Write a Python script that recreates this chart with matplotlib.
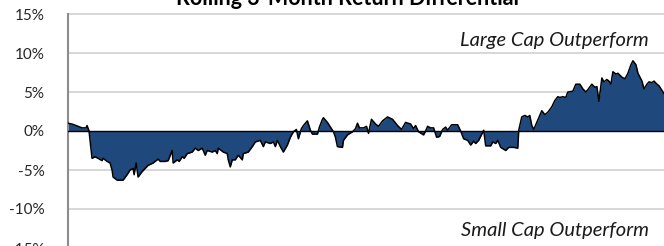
import matplotlib
matplotlib.use("Agg")
import numpy as np
import matplotlib.pyplot as plt
from matplotlib.ticker import FuncFormatter

# period index (weekly-ish) and rolling 3-month return differential, in %
period = [0, 5, 10, 14, 18, 19, 21, 24, 27, 30, 34, 35, 39, 42, 44, 45, 49, 55, 59, 62,
          65, 66, 68, 70, 74, 77, 80, 85, 90, 92, 97, 100, 104, 105, 109, 111, 114, 116, 119, 124,
          127, 130, 134, 137, 139, 144, 147, 149, 150, 155, 159, 160, 162, 164, 167, 170, 174, 175, 180, 184,
          187, 192, 195, 197, 202, 205, 207, 209, 212, 215, 219, 222, 225, 228, 230, 233, 235, 239, 242, 244,
          249, 251, 254, 255, 259, 262, 265, 267, 269, 274, 275, 279, 284, 287, 289, 291, 295, 298, 300, 303,
          307, 310, 314, 319, 324, 329, 333, 337, 342, 345, 347, 350, 355, 357, 359, 362, 365, 368, 371, 374,
          377, 379, 383, 389, 392, 395, 399, 402, 405, 407, 410, 415, 417, 422, 424, 427, 429, 432, 437, 440,
          445, 449, 450, 453, 456, 459, 461, 463, 465, 469, 473, 476, 479, 483, 486, 489, 491, 494, 497, 499,
          504, 507, 511, 514, 517, 519, 523, 526, 528, 530, 533, 535, 538, 540, 542, 544, 547, 549, 553, 556,
          559, 562, 564, 567, 569, 573, 575, 578, 580, 583, 585, 588, 590, 593, 595]
diff = [1.0, 0.85, 0.6, 0.4, 0.4, 0.7, 0.0, -3.5, -3.3, -3.5, -3.8, -3.5, -3.9, -4.1, -5.0, -5.9, -6.3, -6.3, -5.6, -5.0,
        -4.8, -5.6, -4.1, -5.9, -5.2, -4.8, -4.4, -4.1, -3.6, -3.9, -3.9, -3.8, -2.5, -4.1, -3.7, -3.9, -3.3, -3.5, -2.9, -2.7,
        -2.2, -2.5, -2.2, -3.1, -2.5, -2.7, -2.5, -2.9, -2.2, -2.7, -2.9, -3.7, -4.6, -3.7, -3.7, -3.1, -3.7, -2.9, -2.7, -2.0,
        -1.4, -1.2, -2.0, -1.4, -1.6, -1.4, -2.0, -1.2, -2.0, -2.7, -1.8, -0.8, -0.1, 0.2, -1.0, 0.3, 0.7, 1.3, 0.1, -0.4,
        -0.4, 0.5, 1.5, 1.7, 1.1, 0.5, -0.1, -0.8, -2.0, -2.1, -1.2, -0.5, -0.1, 0.3, 1.0, 0.4, 0.4, 0.6, -0.3, 1.5,
        0.9, 0.6, 1.3, 1.8, 1.5, 0.7, 0.2, 1.1, 0.9, 0.3, 0.7, -0.1, -0.5, 0.0, 0.6, 0.4, 0.4, -0.8, -0.7, 0.2,
        0.5, 0.1, 0.8, 0.8, 0.0, -1.0, -1.2, -1.8, -1.3, -1.6, -1.2, 0.1, -1.9, -1.9, -1.4, -1.6, -1.2, -2.1, -2.5, -2.1,
        -2.1, -2.2, 0.1, 1.8, 2.0, 1.8, 2.0, 0.7, 0.2, 1.4, 2.6, 2.1, 2.4, 3.1, 3.9, 4.4, 4.3, 4.4, 4.3, 5.0,
        5.1, 6.0, 6.0, 5.4, 5.0, 5.3, 6.0, 5.6, 5.7, 3.8, 6.8, 6.3, 6.6, 6.4, 6.0, 7.6, 7.3, 7.4, 6.9, 6.7,
        7.4, 8.5, 9.0, 8.5, 7.4, 6.4, 5.4, 6.0, 6.3, 6.2, 6.4, 6.0, 5.8, 5.2, 4.8]

yticks = [-15, -10, -5, 0, 5, 10, 15]
title = "Rolling 3-Month Return Differential"
label_top = "Large Cap Outperform"
label_bottom = "Small Cap Outperform"

plt.rcParams['font.family'] = ['Lato', 'DejaVu Sans']

fig = plt.figure(figsize=(6.64, 2.46), dpi=100)
# axes: left spine at x=68px, top (15%) at y=14px, bottom (-15%) just below the image
ax = fig.add_axes([68 / 664, -2 / 246, 1 - 68 / 664, 234 / 246])

x = np.array(period)
y = np.array(diff)
ax.fill_between(x, y, 0, color='#1f497d', linewidth=0, zorder=2)
ax.plot(x, y, color='black', lw=1.1, zorder=3)
ax.axhline(0, color='black', lw=1.0, zorder=4)

ax.set_xlim(0, max(period))
ax.set_ylim(-15, 15)
ax.set_yticks(yticks)
ax.yaxis.set_major_formatter(FuncFormatter(lambda v, p: f"{v:.0f}%"))
ax.tick_params(axis='y', length=0, pad=17, labelsize=11, colors='#262626')
ax.set_xticks([])
for v in yticks:
    if v != 0:
        ax.axhline(v, color='#d4d4d4', lw=1.3, zorder=1, clip_on=False)

for s in ['top', 'right', 'bottom']:
    ax.spines[s].set_visible(False)
ax.spines['left'].set_color('#8c8c8c')
ax.spines['left'].set_linewidth(1.5)

ax.text(0.975, 11.6, label_top, ha='right', va='center', fontsize=14.5,
        style='italic', transform=ax.get_yaxis_transform(), color='#1a1a1a')
ax.text(0.975, -12.75, label_bottom, ha='right', va='center', fontsize=14.5,
        style='italic', transform=ax.get_yaxis_transform(), color='#1a1a1a')

fig.text(348 / 664, 1 - 5 / 246, title, ha='center', va='baseline', fontsize=15.5,
         fontweight='bold')

fig.savefig("out.png", dpi=100)
